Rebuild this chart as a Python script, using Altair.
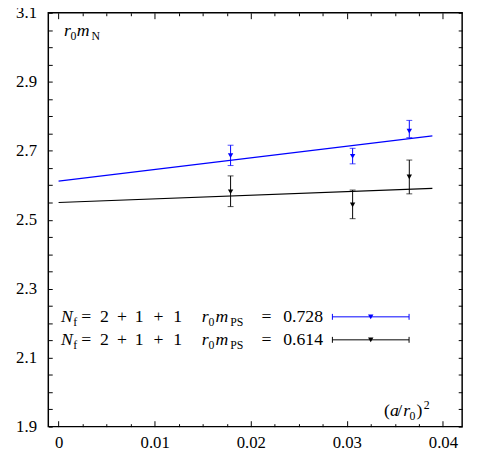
import altair as alt
import pandas as pd

# ---------------- data ----------------
a2 = [0.0179, 0.0306, 0.0365]                 # (a/r0)^2
series_names = ["0.728", "0.614"]
colors = ["#0000ff", "#000000"]

mN_728 = [2.686, 2.684, 2.757]
hi_728 = [2.716, 2.707, 2.788]
lo_728 = [2.657, 2.662, 2.738]

mN_614 = [2.581, 2.543, 2.624]
hi_614 = [2.627, 2.586, 2.673]
lo_614 = [2.538, 2.503, 2.575]

fit_x = [0.0, 0.0389]
fit_728 = [2.612, 2.743]
fit_614 = [2.550, 2.591]

x_labels = [0, 0.01, 0.02, 0.03, 0.04]
y_labels = [1.9, 2.1, 2.3, 2.5, 2.7, 2.9, 3.1]
x_minor = [round(i * 0.0025, 4) for i in range(17)]
y_minor = [round(1.9 + 0.05 * i, 2) for i in range(25)]

nf_tokens = ["=", "2", "+", "1", "+", "1"]
legend_vals = ["0.728", "0.614"]

# ---------------- tables ----------------
pts = pd.DataFrame({
    "x": a2 * 2,
    "y": mN_728 + mN_614,
    "hi": hi_728 + hi_614,
    "lo": lo_728 + lo_614,
    "s": [series_names[0]] * 3 + [series_names[1]] * 3,
})
fit = pd.DataFrame({
    "x": fit_x * 2,
    "y": fit_728 + fit_614,
    "s": [series_names[0]] * 2 + [series_names[1]] * 2,
})

W, H = 421, 421
FONT = "Liberation Serif"

xs = alt.Scale(domain=[-0.00107, 0.042], nice=False, zero=False)
ys = alt.Scale(domain=[1.9, 3.1], nice=False, zero=False)
cs = alt.Scale(domain=series_names, range=colors)
color = alt.Color("s:N", scale=cs, legend=None)

xcond = {"condition": {"test": "abs(datum.value*100 - round(datum.value*100)) < 0.001", "value": 6}, "value": 3}

ax_x_lab = alt.Axis(orient="bottom", values=x_labels, ticks=False, domain=False, grid=False, title=None,
                    labelExpr="datum.value == 0 ? '0' : format(datum.value, '.2f')",
                    labelFont=FONT, labelFontSize=17, labelColor="black", labelPadding=8)
ax_y_lab = alt.Axis(orient="left", values=y_labels, ticks=False, domain=False, grid=False, title=None,
                    format=".1f", labelFont=FONT, labelFontSize=17, labelColor="black", labelPadding=12)
ax_x_bot = alt.Axis(orient="top", offset=-H, values=x_minor, labels=False, domain=False, grid=False,
                    title=None, tickColor="black", tickSize=xcond, tickWidth=1)
ax_x_top = alt.Axis(orient="bottom", offset=-H, values=x_minor, labels=False, domain=False, grid=False,
                    title=None, tickColor="black", tickSize=xcond, tickWidth=1)
ax_y_left = alt.Axis(orient="right", offset=-W, values=y_minor, labels=False, domain=False, grid=False,
                     title=None, tickColor="black", tickSize=4, tickWidth=1)
ax_y_right = alt.Axis(orient="left", offset=-W, values=y_minor, labels=False, domain=False, grid=False,
                      title=None, tickColor="black", tickSize=4, tickWidth=1)

lines = alt.Chart(fit).mark_line(strokeWidth=1.2).encode(
    x=alt.X("x:Q", scale=xs, axis=ax_x_lab),
    y=alt.Y("y:Q", scale=ys, axis=ax_y_lab),
    color=color, detail="s:N")

bars = alt.Chart(pts).mark_rule(strokeWidth=1).encode(
    x=alt.X("x:Q", scale=xs, axis=ax_x_bot),
    y=alt.Y("lo:Q", scale=ys, axis=ax_y_left),
    y2="hi:Q", color=color)

caps_hi = alt.Chart(pts).mark_tick(orient="horizontal", size=6, thickness=1).encode(
    x=alt.X("x:Q", scale=xs, axis=ax_x_top),
    y=alt.Y("hi:Q", scale=ys, axis=ax_y_right),
    color=color)

caps_lo = alt.Chart(pts).mark_tick(orient="horizontal", size=6, thickness=1).encode(
    x=alt.X("x:Q", scale=xs, axis=None),
    y=alt.Y("lo:Q", scale=ys, axis=None),
    color=color)

points = alt.Chart(pts).mark_point(shape="triangle-down", filled=True, size=30, opacity=1).encode(
    x=alt.X("x:Q", scale=xs, axis=None),
    y=alt.Y("y:Q", scale=ys, axis=None),
    color=color)

one = pd.DataFrame({"k": [0]})


def txt(s, x, y, size=18, italic=False, align="left"):
    return alt.Chart(one).mark_text(
        text=s, font=FONT, fontSize=size, fontStyle="italic" if italic else "normal",
        align=align, baseline="alphabetic", color="black").encode(
        x=alt.value(x), y=alt.value(y))


ann = []
# top-left label r0 mN
ann += [txt("r", 16, 24, italic=True), txt("0", 22.5, 28, size=12),
        txt("m", 29, 24, italic=True), txt("N", 44, 28, size=12)]
# axis label (a/r0)^2
ann += [txt("(", 341.5, 410), txt("a", 347.5, 410, italic=True), txt("/", 355, 410),
        txt("r", 361, 410, italic=True), txt("0", 367.5, 414, size=12), txt(")", 374.5, 410),
        txt("2", 382, 403, size=12)]

# legend
row_base = [315, 338]
row_line = [309.3, 332.7]
nf_centers = [38.5, 57, 75, 92.5, 112, 131.5]
lx1, lx2 = 289, 367
for i in range(2):
    b = row_base[i]
    ann += [txt("N", 13, b, italic=True), txt("f", 25.5, b + 4, size=12)]
    ann += [txt(t, cx, b, align="center") for t, cx in zip(nf_tokens, nf_centers)]
    ann += [txt("r", 156, b, italic=True), txt("0", 163, b + 4, size=12),
            txt("m", 170, b, italic=True), txt("PS", 185, b + 4, size=12),
            txt("=", 222, b, align="center"), txt(legend_vals[i], 239, b)]
    c = colors[i]
    yl = row_line[i]
    ann.append(alt.Chart(one).mark_rule(color=c, strokeWidth=1).encode(
        x=alt.value(lx1), x2=alt.value(lx2), y=alt.value(yl)))
    for xc in (lx1, lx2):
        ann.append(alt.Chart(one).mark_rule(color=c, strokeWidth=1).encode(
            x=alt.value(xc), y=alt.value(yl - 3), y2=alt.value(yl + 3)))
    ann.append(alt.Chart(one).mark_point(shape="triangle-down", filled=True, size=30, color=c, opacity=1).encode(
        x=alt.value((lx1 + lx2) / 2), y=alt.value(yl)))

chart = alt.layer(lines, bars, caps_hi, caps_lo, points, *ann).resolve_axis(
    x="independent", y="independent"
).properties(
    width=W, height=H,
    autosize=alt.AutoSizeParams(type="none"),
    padding={"left": 41, "top": 1, "right": 9, "bottom": 26},
).configure_view(stroke="black", strokeWidth=1.5)

chart.save("out.html", embed_options={"renderer": "svg", "actions": False})
